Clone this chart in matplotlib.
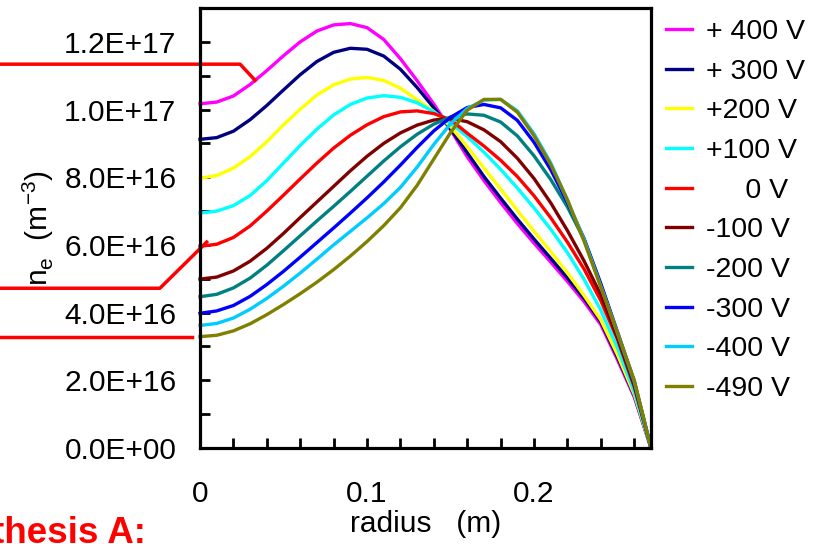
import numpy as np
import matplotlib.pyplot as plt
from matplotlib.ticker import MultipleLocator, FuncFormatter

plt.rcParams['font.family'] = ['Liberation Sans', 'DejaVu Sans']

# --------------- Data (n_e in units of 1E16 m^-3) ---------------
radius = [0.00, 0.01, 0.02, 0.03, 0.04, 0.05, 0.06, 0.07, 0.08, 0.09,
          0.10, 0.11, 0.12, 0.13, 0.14, 0.15, 0.16, 0.17, 0.18, 0.19,
          0.20, 0.21, 0.22, 0.23, 0.24, 0.25, 0.26, 0.27]

ne_p400 = [10.17, 10.22, 10.40, 10.74, 11.15, 11.59, 12.00, 12.32, 12.50, 12.54,
           12.42, 12.07, 11.50, 10.85, 10.16, 9.40, 8.60, 7.90, 7.25, 6.63,
           6.05, 5.49, 4.92, 4.32, 3.64, 2.60, 1.50, 0.0]
ne_p300 = [9.12, 9.17, 9.36, 9.70, 10.12, 10.58, 11.03, 11.42, 11.69, 11.81,
           11.78, 11.58, 11.19, 10.65, 10.05, 9.43, 8.72, 8.02, 7.38, 6.76,
           6.17, 5.60, 5.02, 4.42, 3.72, 2.68, 1.55, 0.0]
ne_p200 = [7.97, 8.05, 8.27, 8.61, 9.05, 9.55, 10.01, 10.43, 10.73, 10.90,
           10.95, 10.86, 10.63, 10.29, 9.94, 9.50, 8.90, 8.27, 7.65, 7.02,
           6.40, 5.80, 5.17, 4.50, 3.78, 2.75, 1.58, 0.0]
ne_p100 = [6.94, 7.00, 7.16, 7.46, 7.90, 8.42, 8.94, 9.42, 9.84, 10.15,
           10.34, 10.41, 10.36, 10.20, 9.93, 9.60, 9.20, 8.74, 8.23, 7.68,
           7.09, 6.46, 5.77, 4.98, 4.07, 2.95, 1.65, 0.0]
ne_0 = [5.96, 6.02, 6.22, 6.56, 7.00, 7.47, 7.95, 8.42, 8.86, 9.24,
        9.55, 9.79, 9.93, 9.96, 9.88, 9.70, 9.30, 8.92, 8.50, 8.02,
        7.45, 6.80, 6.08, 5.28, 4.35, 3.20, 1.80, 0.0]
ne_m100 = [4.99, 5.05, 5.23, 5.52, 5.90, 6.34, 6.81, 7.27, 7.73, 8.19,
           8.62, 9.00, 9.31, 9.54, 9.69, 9.74, 9.64, 9.40, 9.05, 8.56,
           7.96, 7.24, 6.42, 5.52, 4.52, 3.25, 1.85, 0.0]
ne_m200 = [4.47, 4.54, 4.73, 5.02, 5.40, 5.83, 6.27, 6.71, 7.14, 7.58,
           8.03, 8.48, 8.90, 9.27, 9.57, 9.78, 9.87, 9.83, 9.63, 9.22,
           8.63, 7.93, 7.12, 6.15, 4.80, 3.38, 1.95, 0.0]
ne_m300 = [3.98, 4.05, 4.21, 4.48, 4.83, 5.22, 5.64, 6.07, 6.50, 6.94,
           7.39, 7.86, 8.36, 8.88, 9.37, 9.77, 10.06, 10.15, 10.05, 9.68,
           9.03, 8.22, 7.25, 6.18, 4.85, 3.42, 1.96, 0.0]
ne_m400 = [3.62, 3.68, 3.84, 4.10, 4.42, 4.78, 5.17, 5.58, 6.00, 6.40,
           6.80, 7.22, 7.70, 8.30, 8.97, 9.58, 10.03, 10.28, 10.30, 9.96,
           9.28, 8.42, 7.32, 6.15, 4.77, 3.40, 1.97, 0.0]
ne_m490 = [3.29, 3.33, 3.46, 3.67, 3.94, 4.24, 4.56, 4.90, 5.27, 5.67,
           6.10, 6.57, 7.10, 7.76, 8.54, 9.32, 9.98, 10.30, 10.30, 9.92,
           9.22, 8.37, 7.33, 6.10, 4.75, 3.40, 2.00, 0.0]

series = [ne_p400, ne_p300, ne_p200, ne_p100, ne_0,
          ne_m100, ne_m200, ne_m300, ne_m400, ne_m490]
labels = ['+ 400 V', '+ 300 V', '+200 V', '+100 V', '     0 V',
          '-100 V', '-200 V', '-300 V', '-400 V', '-490 V']
colors = ['#FF00FF', '#000080', '#FFFF00', '#00FFFF', '#FF0000',
          '#800000', '#008080', '#0000FF', '#00CCFF', '#808000']

x_ticks = [0.0, 0.1, 0.2]
x_ticklabels = ['0', '0.1', '0.2']

# --------------- Figure ---------------
fig = plt.figure(figsize=(8.16, 5.44), dpi=100)
ax = fig.add_axes([200/816, 96/544, 451/816, 440/544])

r = np.array(radius)
for ne, lab, col in zip(series, labels, colors):
    ax.plot(r, np.array(ne)*1e16, color=col, lw=2.4, label=lab,
            solid_joinstyle='round', clip_on=False)

ax.set_xlim(0, 0.27)
ax.set_ylim(0, 1.3e17)

ax.set_xticks(x_ticks)
ax.set_xticklabels(x_ticklabels)
ax.xaxis.set_minor_locator(MultipleLocator(0.02))
ax.yaxis.set_major_locator(MultipleLocator(2e16))
ax.yaxis.set_minor_locator(MultipleLocator(1e16))
ax.yaxis.set_major_formatter(FuncFormatter(lambda v, p: f'{v:.1E}'))

ax.tick_params(which='both', direction='in', width=2.0, labelsize=21.5)
ax.tick_params(axis='x', which='both', length=7, pad=23)
ax.tick_params(axis='y', which='both', length=7, pad=17)
for sp in ax.spines.values():
    sp.set_linewidth(2.3)

ax.set_xlabel('radius   (m)', fontsize=21.5)
ax.xaxis.set_label_coords(0.5, -0.14)
ax.set_ylabel(r'n$_\mathregular{e}$  (m$^\mathregular{-3}$)', fontsize=21.5)
ax.yaxis.set_label_coords(-0.32, 0.5)

ax.legend(loc='upper left', bbox_to_anchor=(666/816, 1-19/544),
          bbox_transform=fig.transFigure, frameon=False, fontsize=20.5,
          handlelength=0.91, handletextpad=0.49, labelspacing=0.48,
          borderpad=0, borderaxespad=0)

# red callout lines pointing at the curves
x_left = -0.12
ax.plot([x_left, 0.024, 0.033], [11.34e16, 11.34e16, np.interp(0.033, r, ne_p400)*1e16],
        color='red', lw=2.5, clip_on=False)
ax.plot([x_left, -0.024, 0.004], [4.72e16, 4.72e16, np.interp(0.004, r, ne_0)*1e16 + 0.1e16],
        color='red', lw=2.5, clip_on=False)
ax.plot([x_left, -0.005], [ne_m490[0]*1e16, ne_m490[0]*1e16],
        color='red', lw=2.5, clip_on=False)

fig.text(146/816, 1/544, 'Hypothesis A:', color='red', fontsize=26.5,
         fontweight='bold', ha='right', va='baseline')

fig.savefig('out.png', dpi=100)
